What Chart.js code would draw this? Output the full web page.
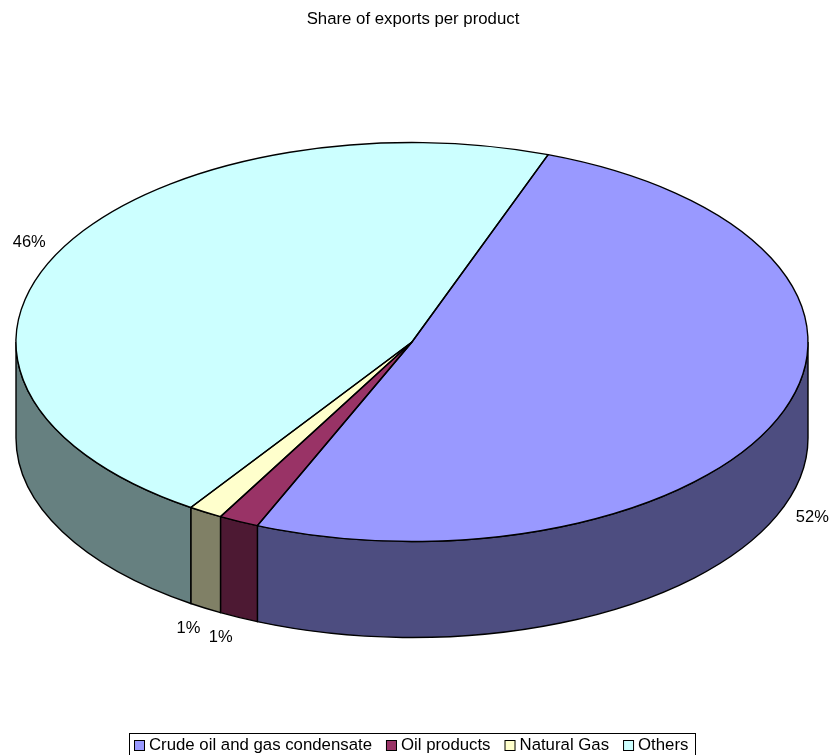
<!DOCTYPE html>
<html>
<head>
<meta charset="utf-8">
<title>Share of exports per product</title>
<script src="https://cdn.jsdelivr.net/npm/chart.js@4/dist/chart.umd.min.js"></script>
<style>
    html, body { margin: 0; padding: 0; background: #fff; }
    canvas { display: block; }
</style>
</head>
<body>
<canvas id="pie3d" width="831" height="755"></canvas>
<script>
const categories = ['Crude oil and gas condensate', 'Oil products', 'Natural Gas', 'Others'];
// slice sizes as measured on the picture, the printed labels are rounded differently
const shares = [50.8, 1.65, 1.4, 46.15];
const shareLabels = ['52%', '1%', '1%', '46%'];
const topColors = ['#9999FF', '#993366', '#FFFFCC', '#CCFFFF'];
const wallColors = ['#4D4D80', '#4D1933', '#808066', '#668080'];

// ellipse of the top face
const pieX = 412, pieY = 342, pieRx = 396, pieRy = 199.5, pieDepth = 96;
const labelOffsets = [[32, 102], [-18, 116], [-17, 116], [-30, -9]];
const FONT = '"Liberation Sans", Arial, sans-serif';
const labelSize = 16.5;
const legendSize = 16.8;

function slicePath(ctx, arc) {
    ctx.beginPath();
    ctx.moveTo(pieX, pieY);
    ctx.ellipse(pieX, pieY, pieRx, pieRy, 0, arc.startAngle, arc.endAngle);
    ctx.closePath();
}

const pie3dPlugin = {
    id: 'pie3d',
    beforeDatasetsDraw(chart) {
        const ctx = chart.ctx;
        const arcs = chart.getDatasetMeta(0).data;

        // side walls, only the front half of the pie shows
        ctx.save();
        ctx.lineWidth = 1.4;
        ctx.strokeStyle = '#000';
        arcs.forEach((arc, i) => {
            const a0 = Math.max(arc.startAngle, 0);
            const a1 = Math.min(arc.endAngle, Math.PI);
            if (a1 <= a0) return;
            ctx.beginPath();
            ctx.ellipse(pieX, pieY, pieRx, pieRy, 0, a0, a1);
            ctx.ellipse(pieX, pieY + pieDepth, pieRx, pieRy, 0, a1, a0, true);
            ctx.closePath();
            ctx.fillStyle = wallColors[i];
            ctx.fill();
            ctx.stroke();
        });
        ctx.restore();

        // squash the library's round pie into the ellipse
        const first = arcs[0];
        ctx.save();
        ctx.translate(pieX, pieY);
        ctx.scale(pieRx / first.outerRadius, pieRy / first.outerRadius);
        ctx.translate(-first.x, -first.y);
    },
    afterDatasetsDraw(chart) {
        const ctx = chart.ctx;
        const arcs = chart.getDatasetMeta(0).data;
        ctx.restore();

        ctx.save();
        ctx.lineWidth = 1.4;
        ctx.strokeStyle = '#000';
        arcs.forEach(arc => {
            slicePath(ctx, arc);
            ctx.stroke();
        });

        // percent labels
        ctx.fillStyle = '#000';
        ctx.font = labelSize + 'px ' + FONT;
        ctx.textAlign = 'center';
        ctx.textBaseline = 'middle';
        arcs.forEach((arc, i) => {
            const mid = (arc.startAngle + arc.endAngle) / 2;
            const x = pieX + pieRx * Math.cos(mid) + labelOffsets[i][0];
            const y = pieY + pieRy * Math.sin(mid) + labelOffsets[i][1];
            ctx.fillText(shareLabels[i], x, y);
        });
        ctx.restore();
    },
    afterDraw(chart) {
        // legend box, runs off the bottom of the page like the original
        const ctx = chart.ctx;
        const top = 733;
        let x = 134;
        ctx.save();
        ctx.strokeStyle = '#000';
        ctx.lineWidth = 1;
        ctx.strokeRect(129.5, top + 0.5, 566, 30);
        ctx.font = legendSize + 'px ' + FONT;
        ctx.textAlign = 'left';
        ctx.textBaseline = 'middle';
        chart.data.labels.forEach((name, i) => {
            ctx.fillStyle = topColors[i];
            ctx.fillRect(x, top + 7, 11, 11);
            ctx.lineWidth = 1;
            ctx.strokeRect(x + 0.5, top + 7.5, 10, 10);
            ctx.fillStyle = '#000';
            ctx.fillText(name, x + 15, top + 12.5);
            x += 15 + ctx.measureText(name).width + 14;
        });
        ctx.restore();
    }
};

new Chart(document.getElementById('pie3d'), {
    type: 'pie',
    data: {
        labels: categories,
        datasets: [{
            data: shares,
            backgroundColor: topColors,
            borderWidth: 0
        }]
    },
    options: {
        responsive: false,
        animation: false,
        rotation: 20.1,
        layout: { padding: { right: 5 } },
        plugins: {
            legend: { display: false },
            tooltip: { enabled: false },
            title: {
                display: true,
                text: 'Share of exports per product',
                color: '#000',
                font: { family: FONT, size: 16.8, weight: 'normal' },
                padding: { top: 9, bottom: 10 }
            }
        }
    },
    plugins: [pie3dPlugin]
});
</script>
</body>
</html>
